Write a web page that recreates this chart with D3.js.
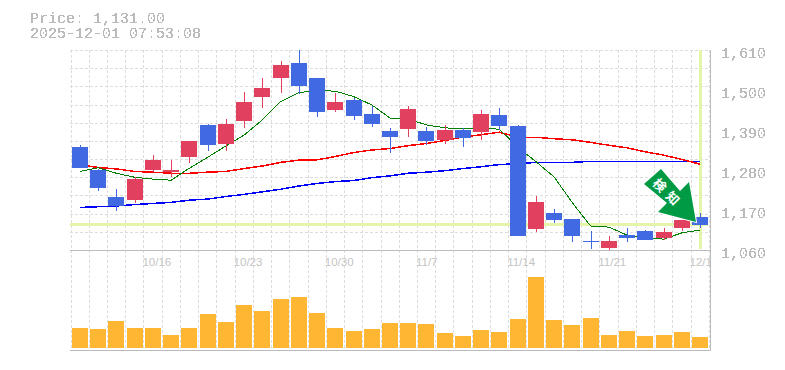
<!DOCTYPE html>
<html>
<head>
<meta charset="utf-8">
<style>
  html, body { margin: 0; padding: 0; background: #fff; }
  svg { display: block; }
</style>
<script src="https://cdn.jsdelivr.net/npm/d3@7"></script>
</head>
<body>
<div class="canvas"></div>
<script>
const dates = ['10/9','10/10','10/14','10/15','10/16','10/17','10/20','10/21','10/22','10/23','10/24','10/27','10/28','10/29','10/30','10/31','11/4','11/5','11/6','11/7','11/10','11/11','11/12','11/13','11/14','11/17','11/18','11/19','11/20','11/21','11/25','11/26','11/27','11/28','12/1'];
const opens = [1343,1280,1206,1200,1280,1275,1318,1404,1352,1415,1481,1533,1574,1533,1445,1473,1434,1387,1393,1387,1365,1390,1385,1431,1401,1118,1162,1145,1085,1066,1101,1112,1093,1121,1151];
const highs = [1349,1283,1228,1261,1321,1308,1360,1407,1420,1495,1533,1580,1610,1533,1492,1478,1456,1396,1456,1398,1404,1396,1445,1451,1404,1209,1173,1145,1113,1099,1121,1115,1121,1143,1162];
const lows = [1286,1222,1167,1189,1275,1261,1299,1332,1332,1396,1451,1492,1489,1426,1440,1418,1398,1327,1371,1349,1352,1343,1363,1390,1101,1110,1134,1082,1063,1057,1082,1090,1088,1112,1121];
const closes = [1288,1233,1181,1255,1308,1280,1360,1349,1407,1467,1506,1569,1511,1440,1467,1429,1407,1371,1448,1360,1390,1368,1434,1401,1101,1192,1145,1099,1084,1085,1093,1090,1110,1143,1131];
const volumes = [20,19,27,20,20,13,20,34,26,43,37,49,51,35,20,17,19,25,25,24,15,12,18,16,29,71,28,23,30,13,17,12,13,16,11];
const maShort = [1276,1286,1271,1260,1255,1252,1285,1315,1346,1376,1418,1468,1493,1498,1497,1482,1459,1423,1420,1404,1396,1393,1396,1392,1343,1303,1261,1190,1126,1123,1101,1093,1090,1107,1115];
const maMid = [1294,1287,1283,1276,1274,1271,1271,1274,1276,1284,1291,1301,1307,1308,1317,1328,1335,1339,1347,1353,1361,1371,1377,1384,1370,1370,1366,1363,1356,1348,1341,1330,1321,1309,1296];
const maLong = [1177,1179,1181,1185,1188,1191,1197,1200,1207,1213,1220,1227,1236,1243,1248,1251,1259,1264,1271,1274,1278,1284,1289,1295,1297,1301,1301,1301,1304,1304,1304,1304,1304,1304,1304];
const priceTicks = [1610,1500,1390,1280,1170,1060];
const priceGrid = [1610,1560,1510,1460,1410,1360,1310,1260,1210,1160,1110,1060];
const dateTicks = ['10/16','10/23','10/30','11/7','11/14','11/21','12/1'];
const lastPrice = 1131;
const titleLines = ['Price: 1,131.00','2025-12-01 07:53:08'];
const signalText = ['検','知'];

const svg = d3.select('.canvas').append('svg')
  .attr('width', 785)
  .attr('height', 370);

// glyphs in the reference are not antialiased, threshold the alpha
svg.append('defs').append('filter')
  .attr('id', 'crisp')
  .attr('color-interpolation-filters', 'sRGB')
  .append('feComponentTransfer')
  .append('feFuncA')
  .attr('type', 'discrete')
  .attr('tableValues', '0 0 1 1 1');

const xScale = d3.scalePoint().domain(dates).range([80, 700]);
const yScale = d3.scaleLinear().domain([1060, 1610]).range([250, 50]);
const volScale = d3.scaleLinear().domain([0, d3.max(volumes)]).range([348, 277]);

const bodyWidth = 16;
const gridX = i => Math.round(xScale(dates[0]) + i * xScale.step() - 9.5) + 0.5;

const drawGrid = () => {
  const g = svg.append('g')
    .attr('stroke', '#dcdcdc')
    .attr('stroke-width', 1)
    .attr('stroke-dasharray', '3,2')
    .attr('shape-rendering', 'crispEdges');

  g.selectAll('.h').data(priceGrid).enter().append('line')
    .attr('x1', 70).attr('x2', 710)
    .attr('y1', d => Math.round(yScale(d)) + 0.5)
    .attr('y2', d => Math.round(yScale(d)) + 0.5);

  g.selectAll('.v').data(d3.range(dates.length + 1)).enter().append('line')
    .attr('x1', gridX).attr('x2', gridX)
    .attr('y1', 50).attr('y2', 350);
};

const drawHighlights = () => {
  const g = svg.append('g').attr('fill', '#e4f5a9');
  g.append('rect')
    .attr('x', 70).attr('width', 638)
    .attr('y', Math.round(yScale(lastPrice)) - 1).attr('height', 3);
  g.append('rect')
    .attr('x', xScale(dates[dates.length - 1]) - 1).attr('width', 3)
    .attr('y', 50).attr('height', 199);
};

const drawLine = (values, color, width) => {
  const line = d3.line()
    .x((d, i) => xScale(dates[i]))
    .y(d => yScale(d));
  svg.append('path')
    .datum(values)
    .attr('fill', 'none')
    .attr('stroke', color)
    .attr('stroke-width', width)
    .attr('shape-rendering', 'crispEdges')
    .attr('d', line);
};

const drawCandles = () => {
  const up = '#e2405f';
  const down = '#4169e1';
  const color = i => closes[i] >= opens[i] ? up : down;
  const left = i => Math.round(xScale(dates[i]) - bodyWidth / 2);
  const idx = d3.range(dates.length);
  const g = svg.append('g');

  g.selectAll('.wick').data(idx).enter().append('rect')
    .attr('x', i => left(i) + 8)
    .attr('width', 1)
    .attr('y', i => Math.round(yScale(highs[i])))
    .attr('height', i => Math.round(yScale(lows[i])) - Math.round(yScale(highs[i])))
    .attr('fill', color);

  g.selectAll('.body').data(idx).enter().append('rect')
    .attr('x', left)
    .attr('width', bodyWidth)
    .attr('y', i => Math.round(yScale(Math.max(opens[i], closes[i]))))
    .attr('height', i => Math.max(1, Math.ceil(yScale(Math.min(opens[i], closes[i])) - 0.01) - Math.round(yScale(Math.max(opens[i], closes[i])))))
    .attr('fill', color);
};

const drawVolume = () => {
  svg.append('g').selectAll('rect').data(volumes).enter().append('rect')
    .attr('x', (d, i) => Math.round(xScale(dates[i]) - bodyWidth / 2))
    .attr('width', bodyWidth)
    .attr('y', d => Math.round(volScale(d)))
    .attr('height', d => 348 - Math.round(volScale(d)))
    .attr('fill', '#ffb733');
};

const drawFrame = () => {
  const g = svg.append('g')
    .attr('stroke', '#bbb')
    .attr('shape-rendering', 'crispEdges');
  g.append('line').attr('x1', 70).attr('x2', 710).attr('y1', 250.5).attr('y2', 250.5);
  g.append('line').attr('x1', 70).attr('x2', 710).attr('y1', 350.5).attr('y2', 350.5);
  g.append('line').attr('x1', 710.5).attr('x2', 710.5).attr('y1', 50).attr('y2', 351);
};

const drawAxes = () => {
  const right = d3.axisRight(yScale)
    .tickValues(priceTicks)
    .tickSize(0)
    .tickFormat(d3.format(','));
  const rightGroup = svg.append('g')
    .attr('transform', 'translate(711,0)')
    .call(right);
  rightGroup.select('.domain').remove();
  rightGroup.selectAll('text')
    .attr('x', 10)
    .attr('dy', 7)
    .attr('font-family', '"Liberation Mono"')
    .attr('font-size', 15)
    .attr('fill', '#bbb')
    .attr('filter', 'url(#crisp)');

  const bottom = d3.axisBottom(xScale)
    .tickValues(dateTicks)
    .tickSize(0);
  const bottomGroup = svg.append('g')
    .attr('transform', 'translate(0,250)')
    .call(bottom);
  bottomGroup.select('.domain').remove();
  bottomGroup.selectAll('text')
    .attr('x', -11)
    .attr('y', 16)
    .attr('dy', 0)
    .attr('text-anchor', 'start')
    .attr('font-family', '"Liberation Sans"')
    .attr('font-size', 11.5)
    .attr('fill', '#c4c4c4');
};

const drawTitle = () => {
  svg.append('g').selectAll('text').data(titleLines).enter().append('text')
    .attr('x', 30)
    .attr('y', (d, i) => 23 + i * 15)
    .attr('font-family', '"Liberation Mono"')
    .attr('font-size', 15)
    .attr('fill', '#bbb')
    .attr('filter', 'url(#crisp)')
    .text(d => d);
};

const drawSignal = () => {
  const shape = [[661,169],[644,184],[667,203],[658,212],[696,222],[689,182],[680,191]];
  svg.append('path')
    .attr('d', d3.line()(shape) + 'Z')
    .attr('fill', '#009944')
    .attr('stroke', '#fff')
    .attr('stroke-width', 2)
    .attr('paint-order', 'stroke');
  svg.append('g').selectAll('text').data(signalText).enter().append('text')
    .attr('transform', (d, i) => `translate(${660 + i * 13},${185 + i * 13}) rotate(45)`)
    .attr('text-anchor', 'middle')
    .attr('dy', 5)
    .attr('font-family', '"Noto Sans CJK JP"')
    .attr('font-weight', 700)
    .attr('font-size', 13)
    .attr('fill', '#fff')
    .text(d => d);
};

drawGrid();
drawHighlights();
drawVolume();
drawLine(maLong, '#0000ff', 1.5);
drawLine(maMid, '#ff0000', 1.5);
drawLine(maShort, '#008000', 1);
drawCandles();
drawFrame();
drawAxes();
drawTitle();
drawSignal();
</script>
</body>
</html>
